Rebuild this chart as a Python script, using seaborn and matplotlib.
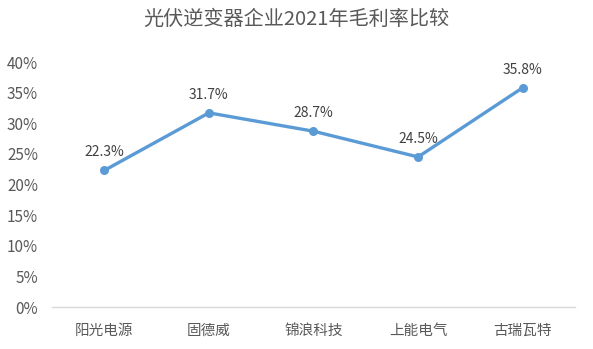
import matplotlib
matplotlib.use("Agg")
import matplotlib.pyplot as plt
import seaborn as sns
import pandas as pd
from matplotlib.ticker import PercentFormatter

categories = ["阳光电源", "固德威", "锦浪科技", "上能电气", "古瑞瓦特"]
margins = [22.3, 31.7, 28.7, 24.5, 35.8]
yticks = [0, 5, 10, 15, 20, 25, 30, 35, 40]

sns.set_theme(style="white")
plt.rcParams['font.family'] = ['Noto Sans CJK SC', 'DejaVu Sans']

df = pd.DataFrame({"company": categories, "margin": margins})

fig = plt.figure(figsize=(5.93, 3.49), dpi=100)
ax = fig.add_axes([0.0877, 0.1203, 0.8819, 0.702])
sns.lineplot(data=df, x="company", y="margin", ax=ax, color="#5B9BD5",
             linewidth=2.4, marker="o", markersize=6.5, markeredgewidth=0, sort=False)

ax.set_xlim(-0.5, len(categories) - 0.5)
ax.set_ylim(0, 40)
ax.set_yticks(yticks)
ax.yaxis.set_major_formatter(PercentFormatter(decimals=0))
ax.set_xlabel("")
ax.set_ylabel("")
for s in ["top", "right", "left"]:
    ax.spines[s].set_visible(False)
ax.spines["bottom"].set_color("#D9D9D9")
ax.spines["bottom"].set_linewidth(1)
ax.tick_params(axis="both", length=0, colors="#595959")
ax.tick_params(axis="x", pad=12, labelsize=10.5)
ax.tick_params(axis="y", pad=10, labelsize=11)

for i, v in enumerate(margins):
    ax.annotate(f"{v}%", (i, v), xytext=(0, 8), textcoords="offset points",
                ha="center", va="bottom", fontsize=10, color="#404040")

fig.suptitle("光伏逆变器企业2021年毛利率比较", y=0.975, fontsize=14.5, color="#595959")
fig.savefig("out.png", dpi=100)
